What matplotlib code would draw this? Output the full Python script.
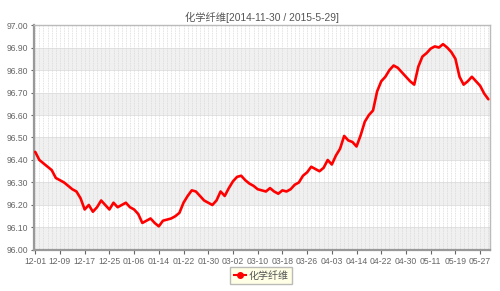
import matplotlib
matplotlib.use('Agg')
import matplotlib.pyplot as plt
import numpy as np

plt.rcParams['font.family'] = ['Liberation Sans', 'Noto Sans CJK SC']

# 数据
title = '化学纤维[2014-11-30 / 2015-5-29]'
series_name = '化学纤维'
tick_labels = ['12-01', '12-09', '12-17', '12-25', '01-06', '01-14', '01-22', '01-30',
               '03-02', '03-10', '03-18', '03-26', '04-03', '04-14', '04-22', '04-30',
               '05-11', '05-19', '05-27']
values = [96.436, 96.40, 96.385, 96.37, 96.355, 96.32, 96.31, 96.30, 96.285, 96.27,
          96.26, 96.23, 96.18, 96.20, 96.17, 96.19, 96.22, 96.20, 96.18, 96.21,
          96.19, 96.20, 96.21, 96.19, 96.18, 96.16, 96.12, 96.13, 96.14, 96.12,
          96.105, 96.13, 96.135, 96.14, 96.15, 96.165, 96.21, 96.24, 96.265, 96.26,
          96.24, 96.22, 96.21, 96.20, 96.22, 96.26, 96.24, 96.275, 96.305, 96.325,
          96.33, 96.31, 96.295, 96.285, 96.27, 96.265, 96.26, 96.275, 96.26, 96.25,
          96.265, 96.26, 96.27, 96.29, 96.30, 96.33, 96.345, 96.37, 96.36, 96.35,
          96.365, 96.40, 96.38, 96.42, 96.45, 96.507, 96.487, 96.48, 96.46, 96.51,
          96.57, 96.60, 96.62, 96.705, 96.75, 96.77, 96.80, 96.82, 96.81, 96.79,
          96.77, 96.75, 96.735, 96.815, 96.86, 96.875, 96.895, 96.905, 96.90, 96.915,
          96.90, 96.88, 96.85, 96.77, 96.735, 96.75, 96.77, 96.75, 96.73, 96.695,
          96.67]

x = np.arange(len(values))

fig = plt.figure(figsize=(5, 2.91), dpi=100)
ax = fig.add_axes([0.068, 0.141, 0.912, 0.773])

# 灰白相间的背景带
for lo in np.arange(96.0, 97.0, 0.2):
    ax.axhspan(lo, lo + 0.1, color='#f0f0f0', zorder=0, lw=0)
for yv in np.arange(96.0, 97.01, 0.1):
    ax.axhline(yv, color='#dddddd', lw=0.6, zorder=1)
for xv in x:
    ax.axvline(xv, color='#d8d8d8', lw=0.6, ls=(0, (1, 1)), zorder=1)

ax.plot(x, values, color='#ff0000', lw=1.9, solid_joinstyle='round',
        solid_capstyle='round', zorder=3)

ax.set_xlim(-0.3, 110.4)
ax.set_ylim(96.0, 97.0)
ax.set_yticks(np.arange(96.0, 97.01, 0.1))
ax.set_yticklabels(['%.2f' % v for v in np.arange(96.0, 97.01, 0.1)])
ax.set_xticks(np.arange(0, 6 * len(tick_labels), 6))
ax.set_xticklabels(tick_labels)
ax.tick_params(axis='both', labelsize=6.2, colors='#666666', length=3, width=0.8, pad=2)
ax.tick_params(axis='y', length=2)

for side in ['left', 'bottom']:
    ax.spines[side].set_color('#999999')
    ax.spines[side].set_linewidth(1.6)
for side in ['top', 'right']:
    ax.spines[side].set_color('#bbbbbb')
    ax.spines[side].set_linewidth(1.0)

fig.text(0.524, 0.94, title, ha='center', va='center', fontsize=7.4, color='#555555')

handle = plt.Line2D([], [], color='#ff0000', lw=1.5, marker='o', markersize=4)
leg = fig.legend([handle], [series_name], loc='center', bbox_to_anchor=(0.522, 0.052),
                 fontsize=7.2, fancybox=False, handlelength=1.2, handletextpad=0.3,
                 borderpad=0.35, frameon=True)
leg.get_frame().set_facecolor('#ffffe0')
leg.get_frame().set_edgecolor('#aaaaaa')
for t in leg.get_texts():
    t.set_color('#555555')

fig.savefig('out.png', dpi=100)
